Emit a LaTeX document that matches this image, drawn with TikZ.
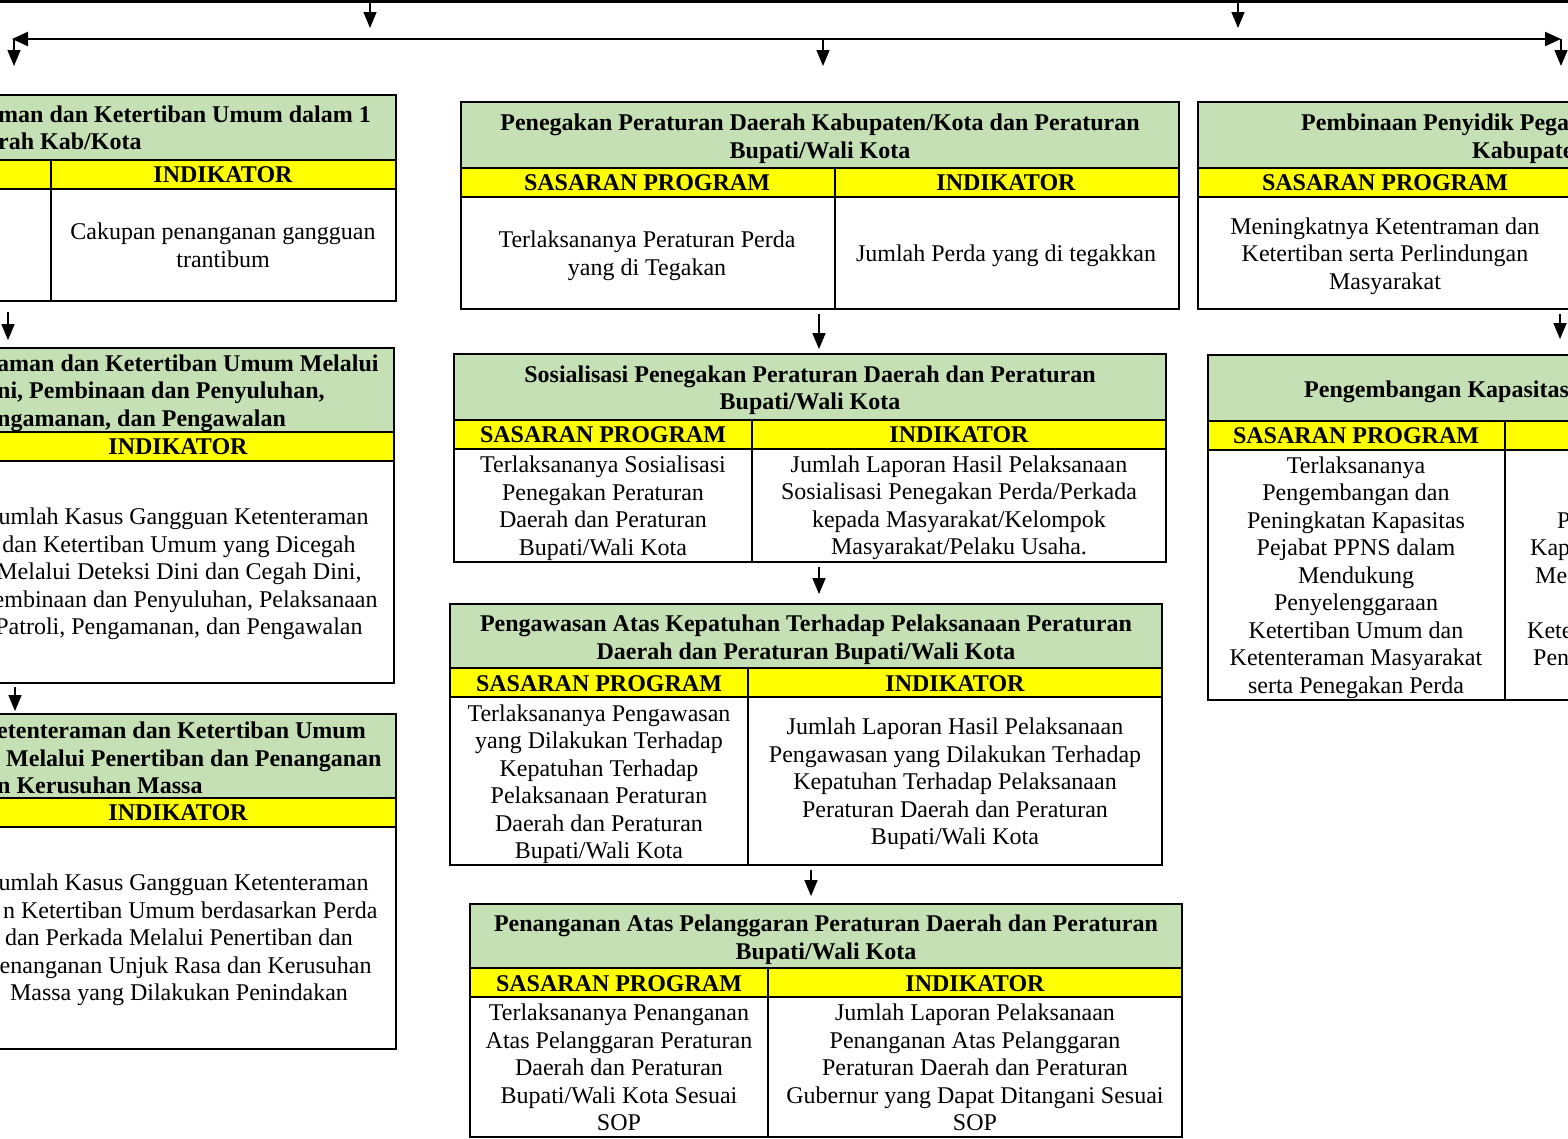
\documentclass[tikz,border=0pt]{standalone}
\usepackage{fontspec}
\setmainfont{Liberation Serif}
\usetikzlibrary{arrows.meta,calc,fit}
\definecolor{grn}{HTML}{C5E0B4}
\definecolor{yel}{HTML}{FFFF00}
% name, x1, x2, xdiv, ytop, yhdr, yyel, ybot
\newcommand\mytable[8]{%
  \fill[grn] (#2,#5) rectangle (#3,#6);
  \fill[yel] (#2,#6) rectangle (#3,#7);
  \draw[bx] (#2,#6) -- (#3,#6) (#2,#7) -- (#3,#7) (#4,#6) -- (#4,#8);
  \node[boxnode, fit={(#2,#5) (#3,#8)}] (#1) {};
}
\begin{document}
\begin{tikzpicture}[x=1pt,y=-1pt,
  bx/.style={line width=1.8pt},
  boxnode/.style={draw, line width=1.8pt, inner sep=0pt, rectangle},
  txt/.style={inner sep=0pt, align=center, font=\fontsize{24}{27.5}\selectfont},
  btxt/.style={inner sep=0pt, align=center, font=\fontsize{24}{27.5}\selectfont\bfseries},
  frag/.style={inner sep=0pt, anchor=base west, font=\fontsize{24}{27.5}\selectfont},
  tip/.style={-{Triangle[width=13pt,length=16pt]}},
  arr/.style={line width=1.4pt, tip},
]
\useasboundingbox (0,0) rectangle (1568,1138);
\clip (0,0) rectangle (1568,1138);
\fill[white] (0,0) rectangle (1568,1138);

% ---- top connectors ----
\coordinate (topL) at (-10,0);
\coordinate (topR) at (1580,0);
\draw[line width=5pt] (topL) -- (topR);
\coordinate (t1) at (370,1);
\coordinate (t2) at (1238,1);
\draw[arr] (t1) -- ++(0,27);
\draw[arr] (t2) -- ++(0,27);
\coordinate (hl) at (12,39);
\coordinate (hr) at (1561,39);
\coordinate (hm) at (823,39);
\draw[line width=2.2pt, {Triangle[width=14pt,length=16pt]}-{Triangle[width=14pt,length=16pt]}] (hl) -- (hr);
\draw[arr] ($(hl)+(2,0)$) -- ++(0,27);
\draw[arr] (hm) -- ++(0,27);
\draw[arr] (hr) -- ++(0,27);

% ---- left column ----
\mytable{L1}{-330}{396}{51}{95}{160}{189}{301}
\node[btxt, anchor=west, align=left] (L1h) at (-2,128) {man dan Ketertiban Umum dalam 1\\rah Kab/Kota};
\node[btxt] (L1i) at (223,175) {INDIKATOR};
\node[txt] (L1b) at (223,245.5) {Cakupan penanganan gangguan\\trantibum};

\mytable{L2}{-330}{394}{-38}{348}{432}{461}{683}
\node[btxt, anchor=west, align=left] (L2h) at (-3,393) {aman dan Ketertiban Umum Melalui\\ni, Pembinaan dan Penyuluhan,\\ngamanan, dan Pengawalan};
\node[btxt] (L2i) at (178,447) {INDIKATOR};
\node[txt] (L2b) at (179,574) {\phantom{J}umlah Kasus Gangguan Ketenteraman\\dan Ketertiban Umum yang Dicegah\\Melalui Deteksi Dini dan Cegah Dini,\\\phantom{P}embinaan dan Penyuluhan, Pelaksanaan\\Patroli, Pengamanan, dan Pengawalan};

\mytable{L3}{-330}{396}{-38}{714}{798}{827}{1049}
\node[btxt, anchor=west, align=left] (L3h) at (-3,758) {etenteraman dan Ketertiban Umum\\\hspace*{9pt}Melalui Penertiban dan Penanganan\\n Kerusuhan Massa};
\node[btxt] (L3i) at (178,813) {INDIKATOR};
\node[txt] (L3b) at (179,940) {\phantom{J}umlah Kasus Gangguan Ketenteraman\\\phantom{da}n Ketertiban Umum berdasarkan Perda\\dan Perkada Melalui Penertiban dan\\\phantom{P}enanganan Unjuk Rasa dan Kerusuhan\\Massa yang Dilakukan Penindakan};

% ---- middle column ----
\mytable{M1}{461}{1179}{835}{102}{168}{197}{309}
\node[btxt] (M1h) at (820,138.5) {Penegakan Peraturan Daerah Kabupaten/Kota dan Peraturan\\Bupati/Wali Kota};
\node[btxt] (M1s) at (647,183) {SASARAN PROGRAM};
\node[btxt] (M1i) at (1006,183) {INDIKATOR};
\node[txt] (M1l) at (647,256) {Terlaksananya Peraturan Perda\\yang di Tegakan};
\node[txt] (M1r) at (1006,255.5) {Jumlah Perda yang di tegakkan};

\mytable{M2}{454}{1166}{752}{354}{420}{449}{562}
\node[btxt] (M2h) at (810,390) {Sosialisasi Penegakan Peraturan Daerah dan Peraturan\\Bupati/Wali Kota};
\node[btxt] (M2s) at (603,435) {SASARAN PROGRAM};
\node[btxt] (M2i) at (959,435) {INDIKATOR};
\node[txt] (M2l) at (603,508) {Terlaksananya Sosialisasi\\Penegakan Peraturan\\Daerah dan Peraturan\\Bupati/Wali Kota};
\node[txt] (M2r) at (959,508) {Jumlah Laporan Hasil Pelaksanaan\\Sosialisasi Penegakan Perda/Perkada\\kepada Masyarakat/Kelompok\\Masyarakat/Pelaku Usaha.};

\mytable{M3}{450}{1162}{748}{604}{668}{697}{865}
\node[btxt] (M3h) at (806,639.5) {Pengawasan Atas Kepatuhan Terhadap Pelaksanaan Peraturan\\Daerah dan Peraturan Bupati/Wali Kota};
\node[btxt] (M3s) at (599,684) {SASARAN PROGRAM};
\node[btxt] (M3i) at (955,684) {INDIKATOR};
\node[txt] (M3l) at (599,784) {Terlaksananya Pengawasan\\yang Dilakukan Terhadap\\Kepatuhan Terhadap\\Pelaksanaan Peraturan\\Daerah dan Peraturan\\Bupati/Wali Kota};
\node[txt] (M3r) at (955,784) {Jumlah Laporan Hasil Pelaksanaan\\Pengawasan yang Dilakukan Terhadap\\Kepatuhan Terhadap Pelaksanaan\\Peraturan Daerah dan Peraturan\\Bupati/Wali Kota};

\mytable{M4}{470}{1182}{768}{904}{968}{997}{1137}
\node[btxt] (M4h) at (826,939.5) {Penanganan Atas Pelanggaran Peraturan Daerah dan Peraturan\\Bupati/Wali Kota};
\node[btxt] (M4s) at (619,984) {SASARAN PROGRAM};
\node[btxt] (M4i) at (975,984) {INDIKATOR};
\node[txt] (M4l) at (619,1067.6) {Terlaksananya Penanganan\\Atas Pelanggaran Peraturan\\Daerah dan Peraturan\\Bupati/Wali Kota Sesuai\\SOP};
\node[txt] (M4r) at (975,1067.6) {Jumlah Laporan Pelaksanaan\\Penanganan Atas Pelanggaran\\Peraturan Daerah dan Peraturan\\Gubernur yang Dapat Ditangani Sesuai\\SOP};

% ---- right column ----
\mytable{R1}{1198}{1950}{1572}{102}{168}{197}{309}
\node[btxt, anchor=west] (R1h1) at (1301,124.5) {Pembinaan Penyidik Pega};
\node[btxt, anchor=west] (R1h2) at (1472,152.5) {Kabupate};
\node[btxt] (R1s) at (1385,183) {SASARAN PROGRAM};
\node[txt] (R1l) at (1385,256) {Meningkatnya Ketentraman dan\\Ketertiban serta Perlindungan\\Masyarakat};

\mytable{R2}{1208}{1950}{1505}{355}{421}{450}{700}
\node[btxt, anchor=west] (R2h) at (1304,391.5) {Pengembangan Kapasitas};
\node[btxt] (R2s) at (1356,436) {SASARAN PROGRAM};
\node[txt] (R2l) at (1356,577.5) {Terlaksananya\\Pengembangan dan\\Peningkatan Kapasitas\\Pejabat PPNS dalam\\Mendukung\\Penyelenggaraan\\Ketertiban Umum dan\\Ketenteraman Masyarakat\\serta Penegakan Perda};
\node[frag] (R2r1) at (1557,528) {P};
\node[frag] (R2r2) at (1530,555) {Kap};
\node[frag] (R2r3) at (1535,583) {Me};
\node[frag] (R2r4) at (1527,638) {Kete};
\node[frag] (R2r5) at (1533,665) {Pen};

% ---- vertical connectors between tables ----
\path ($(L1.south)+(-25,10)$) coordinate (cL12);
\draw[arr, shorten >=7pt] (cL12) -- (cL12 |- L2.north);
\path ($(L2.south)+(-17,3)$) coordinate (cL23);
\draw[arr, shorten >=2pt] (cL23) -- (cL23 |- L3.north);
\path ($(M1.south)+(-1,4)$) coordinate (cM12);
\draw[arr, shorten >=4pt] (cM12) -- (cM12 |- M2.north);
\path ($(M2.south)+(9,4)$) coordinate (cM23);
\draw[arr, shorten >=9pt] (cM23) -- (cM23 |- M3.north);
\path ($(M3.south)+(5,4)$) coordinate (cM34);
\draw[arr, shorten >=7pt] (cM34) -- (cM34 |- M4.north);
\path ($(R1.south)+(-14,4)$) coordinate (cR12);
\draw[arr, shorten >=15pt] (cR12) -- (cR12 |- R2.north);
\end{tikzpicture}
\end{document}
